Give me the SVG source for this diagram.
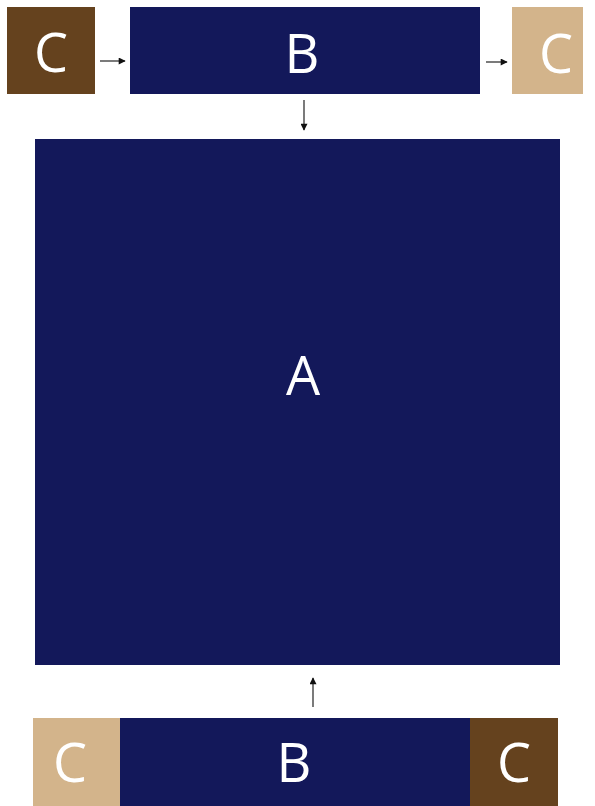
<svg xmlns="http://www.w3.org/2000/svg" width="595" height="806" viewBox="0 0 595 806">
<style>
.navy{fill:#13185A}
.brown{fill:#65421E}
.tan{fill:#D3B48B}
.lbl{fill:#FFFFFF;font-family:"Open Sans","Noto Sans",sans-serif;font-size:54px;text-anchor:middle}
.conn{stroke:#333333;stroke-width:1.3;fill:none;marker-end:url(#ah)}
</style>
<defs>
<marker id="ah" viewBox="0 0 10 10" refX="9" refY="5" markerWidth="8" markerHeight="7" orient="auto" markerUnits="userSpaceOnUse">
<path d="M0,0 L10,5 L0,10 z" fill="#111111"/>
</marker>
</defs>
<rect width="595" height="806" fill="#FFFFFF"/>
<g id="c-top-left"><rect class="brown" x="7" y="7" width="88" height="87"/><text class="lbl" x="51" y="72">C</text></g>
<g id="b-top"><rect class="navy" x="130" y="7" width="350" height="87"/><text class="lbl" x="302" y="73">B</text></g>
<g id="c-top-right"><rect class="tan" x="512" y="7" width="71" height="87"/><text class="lbl" x="556" y="73">C</text></g>
<g id="a-main"><rect class="navy" x="35" y="139" width="525" height="526"/><text class="lbl" x="303" y="395">A</text></g>
<g id="c-bottom-left"><rect class="tan" x="33" y="718" width="87" height="88"/><text class="lbl" x="70" y="782">C</text></g>
<g id="b-bottom"><rect class="navy" x="120" y="718" width="350" height="88"/><text class="lbl" x="294" y="782">B</text></g>
<g id="c-bottom-right"><rect class="brown" x="470" y="718" width="88" height="88"/><text class="lbl" x="514" y="782">C</text></g>
<g id="connectors">
<path class="conn" d="M100,61 L125,61"/>
<path class="conn" d="M486,62 L507,62"/>
<path class="conn" d="M304,100 L304,130"/>
<path class="conn" d="M313,707 L313,678"/>
</g>
</svg>
